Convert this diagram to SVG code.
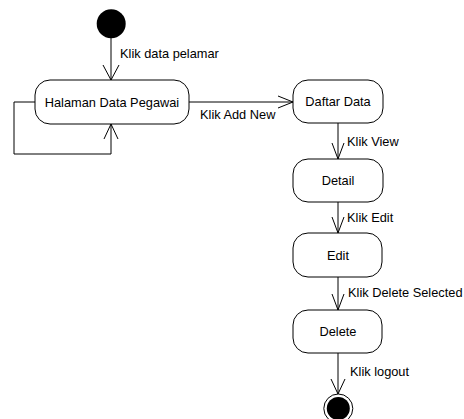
<svg xmlns="http://www.w3.org/2000/svg" width="464" height="419" viewBox="0 0 464 419">
  <style>
    .state { fill: #ffffff; stroke: #000000; stroke-width: 1; }
    .name { font-family: "Liberation Sans", Arial, sans-serif; font-size: 12.8px; fill: #000000; text-anchor: middle; }
    .label { font-family: "Liberation Sans", Arial, sans-serif; font-size: 12.8px; fill: #000000; }
    .edge { fill: none; stroke: #000000; stroke-width: 1; }
    .head { fill: none; stroke: #000000; stroke-width: 1; }
  </style>
  <rect width="464" height="419" fill="#ffffff"/>

  <g id="connectors">
    <!-- start to Halaman Data Pegawai -->
    <path class="edge" d="M111,38 V80"/>
    <path class="head" d="M103,65 L111,80 L119,65"/>
    <text class="label" x="120" y="58">Klik data pelamar</text>

    <!-- self loop on Halaman Data Pegawai -->
    <path class="edge" d="M35,102 H14 V154 H111 V124"/>
    <path class="head" d="M104,139 L111,124 L118,139"/>

    <!-- Halaman Data Pegawai to Daftar Data -->
    <path class="edge" d="M189,102 H293"/>
    <path class="head" d="M278,96 L293,102 L278,108"/>
    <text class="label" x="200" y="119">Klik Add New</text>

    <!-- Daftar Data to Detail -->
    <path class="edge" d="M338,123 V159"/>
    <path class="head" d="M332,143 L338,159 L344,143"/>
    <text class="label" x="347" y="146">Klik View</text>

    <!-- Detail to Edit -->
    <path class="edge" d="M338,202 V233"/>
    <path class="head" d="M332,217 L338,233 L344,217"/>
    <text class="label" x="347" y="222">Klik Edit</text>

    <!-- Edit to Delete -->
    <path class="edge" d="M338,277 V310"/>
    <path class="head" d="M332,294 L338,310 L344,294"/>
    <text class="label" x="348" y="297">Klik Delete Selected</text>

    <!-- Delete to end -->
    <path class="edge" d="M338,353 V394"/>
    <path class="head" d="M331,379 L338,394 L345,379"/>
    <text class="label" x="350" y="376">Klik logout</text>
  </g>

  <g id="start">
    <circle cx="111.2" cy="23.8" r="14.5" fill="#000000"/>
  </g>

  <g id="halaman-data-pegawai">
    <rect class="state" x="35" y="80" width="154" height="44" rx="15" ry="15"/>
    <text class="name" x="112" y="106.5">Halaman Data Pegawai</text>
  </g>

  <g id="daftar-data">
    <rect class="state" x="293" y="80" width="90" height="43" rx="15" ry="15"/>
    <text class="name" x="338" y="106">Daftar Data</text>
  </g>

  <g id="detail">
    <rect class="state" x="293" y="159" width="90" height="43" rx="15" ry="15"/>
    <text class="name" x="338" y="185">Detail</text>
  </g>

  <g id="edit">
    <rect class="state" x="293" y="233" width="89" height="44" rx="15" ry="15"/>
    <text class="name" x="338" y="259.5">Edit</text>
  </g>

  <g id="delete">
    <rect class="state" x="293" y="310" width="89" height="43" rx="15" ry="15"/>
    <text class="name" x="338" y="336">Delete</text>
  </g>

  <g id="end">
    <circle cx="338.3" cy="408.5" r="14.5" fill="#ffffff" stroke="#000000" stroke-width="1"/>
    <circle cx="338.3" cy="408.5" r="11.5" fill="#000000"/>
  </g>
</svg>
